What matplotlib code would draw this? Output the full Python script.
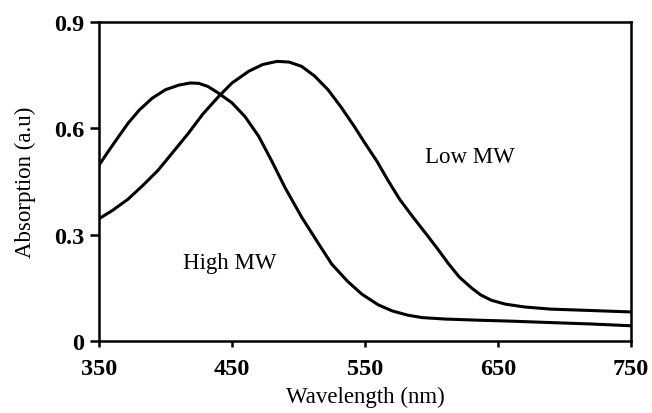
import matplotlib
matplotlib.use("Agg")
import matplotlib.pyplot as plt

# wavelength (nm) and absorption (a.u.)
high_mw_x = [350, 357, 365, 372, 380.4, 390, 400, 410, 418.6, 425, 432, 440,
             450, 459.8, 470, 479.6, 490, 502.3, 515, 525, 537, 547.7, 560,
             570.4, 582, 593, 610, 632.8, 660, 689.6, 720, 750]
high_mw_y = [0.496, 0.535, 0.578, 0.615, 0.652, 0.685, 0.709, 0.722, 0.728,
             0.727, 0.718, 0.699, 0.672, 0.633, 0.578, 0.510, 0.432, 0.350,
             0.275, 0.217, 0.168, 0.132, 0.102, 0.085, 0.073, 0.066, 0.062,
             0.059, 0.056, 0.052, 0.048, 0.043]

low_mw_x = [350, 360, 371.8, 383, 394.5, 405, 417.2, 428, 440, 450, 462.6, 473,
            483.9, 493, 502.3, 512, 522.2, 532, 542, 550, 559, 567, 576, 586,
            596, 605, 613, 621, 630, 637, 645, 655.5, 670, 689.6, 720, 750]
low_mw_y = [0.345, 0.368, 0.400, 0.439, 0.482, 0.530, 0.586, 0.640, 0.690,
            0.728, 0.761, 0.780, 0.789, 0.787, 0.775, 0.748, 0.709, 0.660,
            0.605, 0.558, 0.507, 0.455, 0.400, 0.350, 0.302, 0.258, 0.217,
            0.180, 0.150, 0.130, 0.115, 0.104, 0.096, 0.090, 0.086, 0.082]

x_ticks = [350, 450, 550, 650, 750]
y_ticks = [0, 0.3, 0.6, 0.9]
y_tick_labels = ["0", "0.3", "0.6", "0.9"]

plt.rcParams["font.family"] = ["Liberation Serif", "DejaVu Serif"]

fig = plt.figure(figsize=(6.52, 4.14), dpi=100)
ax = fig.add_axes([0.1518, 0.1739, 0.8160, 0.7705])

ax.plot(high_mw_x, high_mw_y, color="black", lw=2.2, solid_joinstyle="round")
ax.plot(low_mw_x, low_mw_y, color="black", lw=2.2, solid_joinstyle="round")

ax.text(448, 0.222, "High MW", fontsize=16.5, ha="center", va="center")
ax.text(629, 0.52, "Low MW", fontsize=16.5, ha="center", va="center")

ax.set_xlim(350, 750)
ax.set_ylim(0, 0.9)
ax.set_xticks(x_ticks)
ax.set_yticks(y_ticks)
ax.set_yticklabels(y_tick_labels)
for lab in ax.get_xticklabels() + ax.get_yticklabels():
    lab.set_fontweight("bold")
    lab.set_fontsize(17.5)

ax.tick_params(axis="both", direction="out", width=1.8, color="black")
ax.tick_params(axis="y", length=6.5, pad=4)
ax.tick_params(axis="x", length=4.5, pad=8)

for sp in ax.spines.values():
    sp.set_linewidth(1.8)

ax.set_xlabel("Wavelength (nm)", fontsize=16.5, labelpad=5)
ax.set_ylabel("Absorption (a.u)", fontsize=16.5, labelpad=13)

fig.savefig("out.png", dpi=100)
